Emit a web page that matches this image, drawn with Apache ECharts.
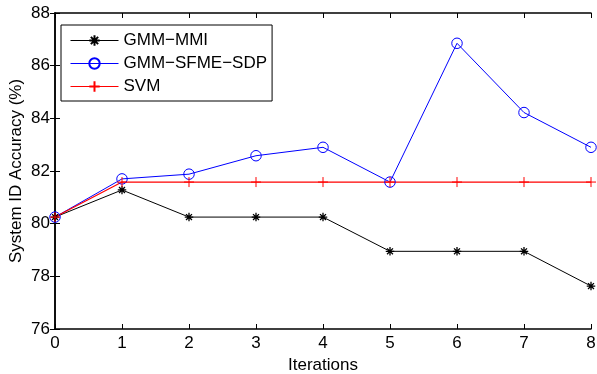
<!DOCTYPE html>
<html>
<head>
<meta charset="utf-8">
<script src="https://cdn.jsdelivr.net/npm/echarts@6/dist/echarts.min.js"></script>
<style>
html, body { margin: 0; padding: 0; background: #fff; }
#chart { width: 597px; height: 374px; }
</style>
</head>
<body>
<div id="chart"></div>
<script>
const iterations = [0, 1, 2, 3, 4, 5, 6, 7, 8]
const gmmMmi = [80.25, 81.28, 80.25, 80.25, 80.25, 78.95, 78.95, 78.95, 77.63]
const gmmSfmeSdp = [80.25, 81.7, 81.88, 82.58, 82.9, 81.58, 86.85, 84.22, 82.9]
const svm = [80.25, 81.58, 81.58, 81.58, 81.58, 81.58, 81.58, 81.58, 81.58]
const yTicks = [76, 78, 80, 82, 84, 86, 88]

const pair = (ys) => iterations.map((x, i) => [x, ys[i]])

const starPath = 'path://M5,0L5,10M0,5L10,5M1.5,1.5L8.5,8.5M8.5,1.5L1.5,8.5'
const plusPath = 'path://M5,0L5,10M0,5L10,5'
const font = 'Liberation Sans, Arial, sans-serif'
const fs = 17

const chart = echarts.init(document.getElementById('chart'))

const hiddenAxis = {
	axisLine: { show: true, lineStyle: { color: '#000', width: 1.5 } },
	axisTick: { show: true, inside: true, length: 5, lineStyle: { color: '#000' } },
	axisLabel: { show: false },
	splitLine: { show: false },
}

chart.setOption({
	backgroundColor: '#fff',
	animation: false,
	grid: { left: 55, right: 6, top: 13, bottom: 45, containLabel: false, outerBoundsMode: 'none' },
	legend: {
		orient: 'vertical',
		left: 61,
		top: 25,
		backgroundColor: '#fff',
		borderColor: '#000',
		borderWidth: 1,
		borderRadius: 0,
		padding: [7, 5, 6, 9],
		itemWidth: 48,
		itemHeight: 13,
		itemGap: 6,
		lineStyle: { width: 1 },
		textStyle: { fontFamily: font, fontSize: fs, color: '#000' },
		data: ['GMM\u2212MMI', 'GMM\u2212SFME\u2212SDP', 'SVM'],
	},
	xAxis: [
		{
			type: 'value',
			min: 0,
			max: 8,
			interval: 1,
			name: 'Iterations',
			nameLocation: 'middle',
			nameGap: 28,
			nameMoveOverlap: false,
			nameTextStyle: { fontFamily: font, fontSize: fs, color: '#000' },
			axisLine: { show: true, onZero: false, lineStyle: { color: '#000', width: 1.5 } },
			axisTick: { show: true, inside: true, length: 5, lineStyle: { color: '#000' } },
			axisLabel: { margin: 6, fontFamily: font, fontSize: fs, color: '#000' },
			splitLine: { show: false },
		},
		{ type: 'value', position: 'top', min: 0, max: 8, interval: 1, ...hiddenAxis },
	],
	yAxis: [
		{
			type: 'value',
			min: 76,
			max: 88,
			interval: 2,
			name: 'System ID Accuracy (%)',
			nameLocation: 'middle',
			nameGap: 30,
			nameMoveOverlap: false,
			nameTextStyle: { fontFamily: font, fontSize: fs, color: '#000' },
			axisLine: { show: true, onZero: false, lineStyle: { color: '#000', width: 1.5 } },
			axisTick: { show: true, inside: true, length: 5, lineStyle: { color: '#000' } },
			axisLabel: {
				margin: 5,
				fontFamily: font,
				fontSize: fs,
				color: '#000',
				formatter: (v) => (yTicks.includes(v) ? String(v) : ''),
			},
			splitLine: { show: false },
		},
		{ type: 'value', position: 'right', min: 76, max: 88, interval: 2, ...hiddenAxis },
	],
	series: [
		{
			name: 'GMM\u2212MMI',
			type: 'line',
			data: pair(gmmMmi),
			symbol: starPath,
			symbolSize: 8.5,
			showAllSymbol: true,
			lineStyle: { color: '#000', width: 1 },
			itemStyle: { color: 'none', borderColor: '#000', borderWidth: 1.3 },
		},
		{
			name: 'GMM\u2212SFME\u2212SDP',
			type: 'line',
			data: pair(gmmSfmeSdp),
			symbol: 'circle',
			symbolSize: 10.5,
			showAllSymbol: true,
			lineStyle: { color: '#0000ff', width: 1 },
			itemStyle: { color: 'none', borderColor: '#0000ff', borderWidth: 1 },
		},
		{
			name: 'SVM',
			type: 'line',
			data: pair(svm),
			symbol: plusPath,
			symbolSize: 10,
			showAllSymbol: true,
			lineStyle: { color: '#ff0000', width: 1.2 },
			itemStyle: { color: 'none', borderColor: '#ff0000', borderWidth: 1 },
		},
	],
})

window.addEventListener('resize', () => {
	chart.resize()
})
</script>
</body>
</html>
